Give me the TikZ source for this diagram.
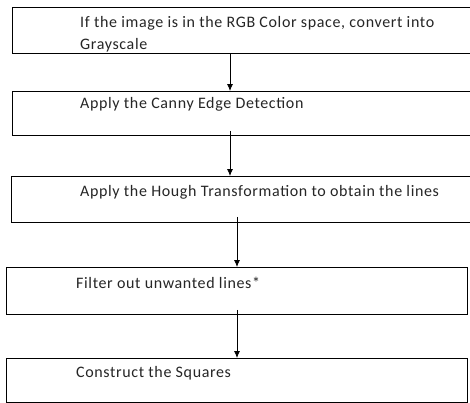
\documentclass[tikz,border=0pt]{standalone}
\usepackage{fontspec}
\setmainfont{Carlito}
\newfontfamily\boxfont[LetterSpace=4]{Carlito}
\usetikzlibrary{arrows.meta}
\begin{document}
\begin{tikzpicture}[x=1pt,y=-1pt,
  boxst/.style={draw=black,line width=0.9pt,rectangle,inner sep=0pt,anchor=north west},
  txt/.style={anchor=west,inner sep=0pt,font=\boxfont\fontsize{16}{19}\selectfont,text=black!85},
  arr/.style={draw=black,line width=0.8pt,-{Latex[length=7pt,width=6pt]}}]
\useasboundingbox[fill=white] (0,0) rectangle (470,402);
\node[boxst,minimum width=458pt,minimum height=46pt] (b1) at (12,7) {};
\node[boxst,minimum width=458pt,minimum height=44pt] (b2) at (12,91) {};
\node[boxst,minimum width=459pt,minimum height=46pt] (b3) at (11,176) {};
\node[boxst,minimum width=461pt,minimum height=47pt] (b4) at (6,267) {};
\node[boxst,minimum width=461pt,minimum height=44pt] (b5) at (6,358) {};
\node[txt] (t1a) at (80,23) {If the image is in the RGB Color space, convert into};
\node[txt] (t1b) at (80,45) {Grayscale};
\node[txt] (t2) at (80,104) {Apply the Canny Edge Detection};
\node[txt] (t3) at (80,192) {Apply the Hough Transformation to obtain the lines};
\node[txt] (t4) at (76,283) {Filter out unwanted lines*};
\node[txt] (t5) at (76,373) {Construct the Squares};
\coordinate (x1) at (230,0);
\coordinate (x2) at (230,0);
\coordinate (x3) at (237,0);
\coordinate (x4) at (237,0);
\draw[arr] (b1.south -| x1) -- (b2.north -| x1);
\draw[arr] ([yshift=5pt]b2.south -| x2) -- (b3.north -| x2);
\draw[arr] ([yshift=6pt]b3.south -| x3) -- (b4.north -| x3);
\draw[arr] ([yshift=5pt]b4.south -| x4) -- (b5.north -| x4);
\end{tikzpicture}
\end{document}
